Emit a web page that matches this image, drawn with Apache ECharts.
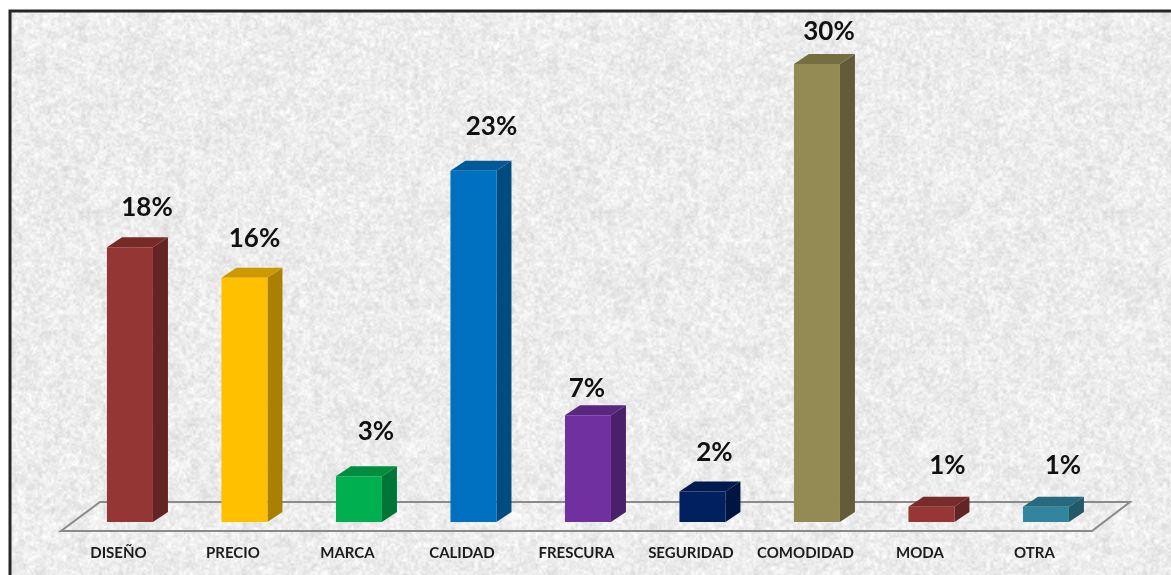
<!DOCTYPE html>
<html><head><meta charset="utf-8">
<script src="https://cdn.jsdelivr.net/npm/echarts@6/dist/echarts.min.js"></script>
<style>html,body{margin:0;padding:0;background:#fff}#c{width:1171px;height:575px}</style>
</head><body><div id="c"></div>
<script>
var categories = ['DISEÑO','PRECIO','MARCA','CALIDAD','FRESCURA','SEGURIDAD','COMODIDAD','MODA','OTRA'];
var percentValues = [18,16,3,23,7,2,30,1,1];
var faceColors = ['#943634','#FFC000','#00B050','#0070C0','#7030A0','#002060','#948A54','#953735','#31859C'];
var sideColors = ['#632523','#AB8000','#007636','#004B80','#4B206B','#001540','#635C38','#632523','#215968'];
var topColors  = ['#772B29','#CC9900','#008D40','#005A9A','#5A2680','#001A4D','#766E43','#772C2A','#276A7D'];
var labelShiftX = [17,10,17,18,-1,12,12,16,17];
var labelRiseY  = [40,39,45,44,27,39,32,41,41];

// Paper-like speckle, computed from a fixed hash so the page is repeatable.
function paperTexture(){
  var size=512, cv=document.createElement('canvas'); cv.width=cv.height=size;
  var ctx=cv.getContext('2d'), img=ctx.createImageData(size,size), d=img.data;
  function h(x,y,p){var s=Math.sin(((x%p+p)%p)*127.1+((y%p+p)%p)*311.7+1.3)*43758.5453;return s-Math.floor(s);}
  function vn(x,y,cell){var p=size/cell,gx=Math.floor(x/cell),gy=Math.floor(y/cell),fx=x/cell-gx,fy=y/cell-gy;
    fx=fx*fx*(3-2*fx);fy=fy*fy*(3-2*fy);
    var a=h(gx,gy,p),b=h(gx+1,gy,p),c=h(gx,gy+1,p),e=h(gx+1,gy+1,p);
    return (a*(1-fx)+b*fx)*(1-fy)+(c*(1-fx)+e*fx)*fy;}
  for(var y=0;y<size;y++)for(var x=0;x<size;x++){
    var n=vn(x,y,2)*.45+vn(x,y,4)*.4+vn(x,y,16)*.15;
    var v=Math.round(236+(n-.5)*46), i=(y*size+x)*4;
    d[i]=v;d[i+1]=v;d[i+2]=v;d[i+3]=255;
  }
  ctx.putImageData(img,0,0);
  return cv;
}

var chart = echarts.init(document.getElementById('c'), null, {renderer:'canvas'});
var BAR_W=46, DX=15, DY=-10;

chart.setOption({
  animation:false,
  backgroundColor:'#fff',
  grid:{left:72.7,right:67.8,top:64,bottom:53},
  xAxis:{type:'category',data:categories,
    axisLine:{show:false},axisTick:{show:false},
    axisLabel:{interval:0,margin:24,color:'#1c1c1c',fontFamily:'Lato',fontSize:15,fontWeight:700,padding:[0,23,0,0]}},
  yAxis:{type:'value',min:0,max:30,interval:10,show:false},
  graphic:[
    {type:'rect',z:0,shape:{x:10,y:11,width:1175,height:580},
      style:{fill:{image:paperTexture(),repeat:'repeat'},stroke:'#262626',lineWidth:3}},
    {type:'polygon',z:1,shape:{points:[[61,531],[1092,531],[1130,502],[100,502]]},
      style:{fill:'transparent',stroke:'#8a8a8a',lineWidth:2}}
  ],
  series:[{
    type:'custom',
    data:percentValues,
    clip:false,
    z:5,
    renderItem:function(params,api){
      var i=params.dataIndex, v=api.value(1);
      var t=api.coord([i,v]), b=api.coord([i,0]);
      var cx=t[0], xl=cx-BAR_W/2, xr=cx+BAR_W/2, yt=t[1], yb=b[1];
      return {type:'group',children:[
        {type:'polygon',shape:{points:[[xr,yt],[xr+DX,yt+DY],[xr+DX,yb+DY],[xr,yb]]},style:{fill:sideColors[i]}},
        {type:'polygon',shape:{points:[[xl,yt],[xl+DX,yt+DY],[xr+DX,yt+DY],[xr,yt]]},style:{fill:topColors[i]}},
        {type:'rect',shape:{x:xl,y:yt,width:BAR_W,height:yb-yt},style:{fill:faceColors[i]}},
        {type:'text',style:{text:v+'%',x:cx+labelShiftX[i],y:yt-labelRiseY[i],align:'center',verticalAlign:'middle',
          font:'bold 26px Lato',fill:'#111'}}
      ]};
    },
    encode:{x:0,y:1}
  }]
});
</script></body></html>
